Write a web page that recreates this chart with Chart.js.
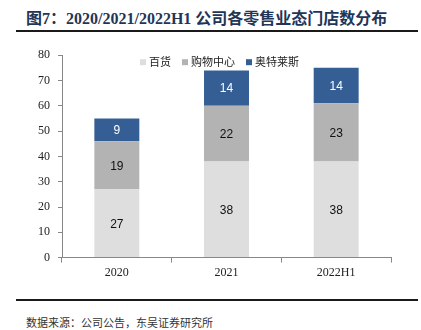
<!DOCTYPE html>
<html>
<head>
<meta charset="utf-8">
<script src="https://cdn.jsdelivr.net/npm/chart.js@4"></script>
<style>
body{margin:0;background:#fff;width:421px;height:330px;overflow:hidden;position:relative;font-family:"Liberation Serif","Noto Sans CJK SC",serif;}
#title{position:absolute;left:26px;top:5px;font-size:16px;font-weight:bold;color:#1f3658;white-space:nowrap;}
.rule{position:absolute;left:16px;width:402px;height:2px;background:#1a1a1a;}
#src{position:absolute;left:26px;top:314px;font-size:11px;color:#333;white-space:nowrap;}
#wrap{position:absolute;left:0;top:40px;width:421px;height:250px;}
</style>
</head>
<body>
<div id="title">图7：2020/2021/2022H1 公司各零售业态门店数分布</div>
<div class="rule" style="top:30px"></div>
<div id="wrap"><canvas id="storeChart"></canvas></div>
<div class="rule" style="top:299px"></div>
<div id="src">数据来源：公司公告，东吴证券研究所</div>
<script>
// DATA
const categories = ['2020','2021','2022H1'];
const seriesNames = ['百货','购物中心','奥特莱斯'];
const departmentStores = [27,38,38];
const shoppingMalls = [19,22,23];
const outlets = [9,14,14];
const yTicks = [0,10,20,30,40,50,60,70,80];

// labels inside each bar segment
const barLabels = {
id:'barLabels',
afterDatasetsDraw(chart){
const c = chart.ctx;
chart.data.datasets.forEach((ds,i) => {
chart.getDatasetMeta(i).data.forEach((bar,j) => {
const mid = (bar.y + bar.base) / 2;
c.save();
c.font = '12px "Liberation Sans", Arial, sans-serif';
c.fillStyle = i === 2 ? '#ffffff' : '#111111';
c.textAlign = 'center';
c.textBaseline = 'middle';
c.fillText(ds.data[j], bar.x, mid + 1);
c.restore();
});
});
}
};

// legend row sitting inside the top of the plot
const insideLegend = {
id:'insideLegend',
afterDraw(chart){
const c = chart.ctx;
const area = chart.chartArea;
const box = 6, gapText = 3, gapItem = 11;
c.save();
c.font = '11px "Noto Sans CJK SC", serif';
const items = chart.data.datasets.map(ds => ({text: ds.label, color: ds.backgroundColor, w: c.measureText(ds.label).width}));
let total = 0;
items.forEach((it,k) => { total += box + gapText + it.w + (k ? gapItem : 0); });
let x = (area.left + area.right) / 2 - total / 2 - 7;
const y = area.top + 7;
items.forEach(it => {
c.fillStyle = it.color;
c.fillRect(x, y - box / 2, box, box);
x += box + gapText;
c.fillStyle = '#222';
c.textAlign = 'left';
c.textBaseline = 'middle';
c.fillText(it.text, x, y);
x += it.w + gapItem;
});
c.restore();
}
};

const ctx = document.getElementById('storeChart');

if(ctx){
new Chart(ctx, {
type: 'bar',
data: {
labels: categories,
datasets: [
{label: seriesNames[0], data: departmentStores, backgroundColor: '#dedede'},
{label: seriesNames[1], data: shoppingMalls, backgroundColor: '#b3b3b3'},
{label: seriesNames[2], data: outlets, backgroundColor: '#345e94'}
]
},
options: {
responsive: true,
maintainAspectRatio: false,
animation: false,
layout: {padding: {left: 30, right: 30, top: 12, bottom: 7}},
datasets: {bar: {categoryPercentage: 1, barPercentage: 0.41}},
plugins: {
tooltip: {enabled: false},
legend: {display: false}
},
scales: {
x: {
stacked: true,
offset: true,
grid: {offset: true, drawOnChartArea: false, tickLength: 5, color: '#888'},
border: {color: '#888'},
ticks: {color: '#222', padding: 3, font: {family: '"Liberation Serif", serif', size: 12}}
},
y: {
stacked: true,
min: yTicks[0],
max: yTicks[yTicks.length - 1],
afterBuildTicks: axis => { axis.ticks = yTicks.map(v => ({value: v})); },
grid: {drawOnChartArea: false, tickLength: 4, color: '#888'},
border: {color: '#888'},
ticks: {color: '#222', padding: 8, font: {family: '"Liberation Serif", serif', size: 12}}
}
}
},
plugins: [barLabels, insideLegend]
});
}
</script>
</body>
</html>
